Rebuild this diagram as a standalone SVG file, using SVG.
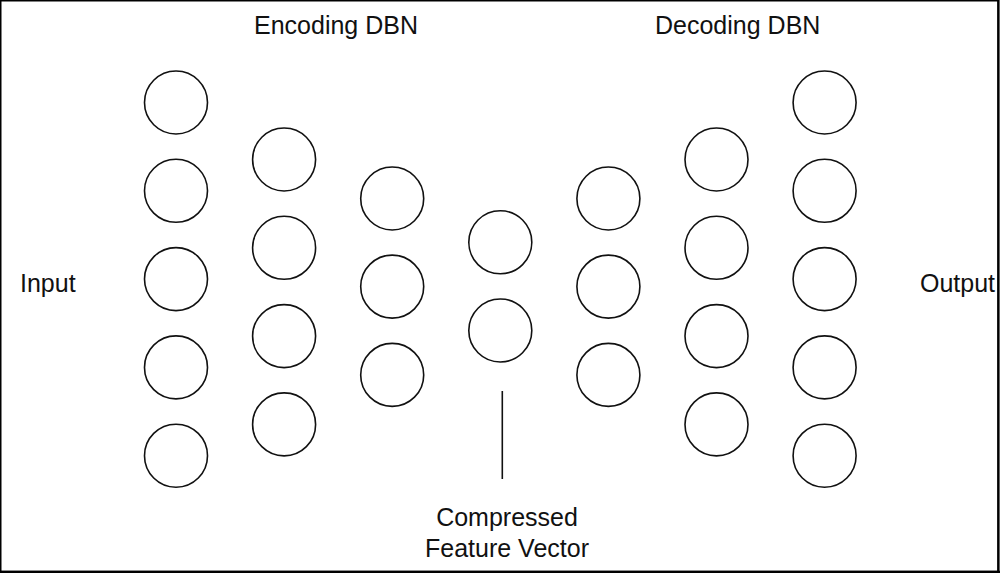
<svg xmlns="http://www.w3.org/2000/svg" width="1000" height="573" viewBox="0 0 1000 573">
<style>
.n{fill:#fff;stroke:#111;stroke-width:1.6}
.t{font-family:"Liberation Sans",Arial,sans-serif;font-size:25px;fill:#111}
.c{stroke:#111;stroke-width:1.6;fill:none}
</style>
<rect x="0" y="0" width="1000" height="573" fill="#fff"/>
<path d="M0.75,0.75 H998 V571.5 H0.75 Z" fill="none" stroke="#000" stroke-width="1.5"/>
<path d="M998.5,0 V573 M0,571.8 H1000" stroke="#000" stroke-width="2.2"/>
<g id="labels">
<text class="t" x="254" y="34">Encoding DBN</text>
<text class="t" x="655" y="34">Decoding DBN</text>
<text class="t" x="20" y="292">Input</text>
<text class="t" x="920" y="292">Output</text>
<text class="t" x="507" y="526" text-anchor="middle">Compressed</text>
<text class="t" x="507" y="557" text-anchor="middle">Feature Vector</text>
</g>
<g id="connectors">
<line class="c" x1="502.3" y1="391" x2="502.3" y2="479"/>
</g>
<g id="layer1">
<circle id="n1-1" class="n" cx="176" cy="102.5" r="31.5"/>
<circle id="n1-2" class="n" cx="176" cy="190.8" r="31.5"/>
<circle id="n1-3" class="n" cx="176" cy="279.1" r="31.5"/>
<circle id="n1-4" class="n" cx="176" cy="367.4" r="31.5"/>
<circle id="n1-5" class="n" cx="176" cy="455.7" r="31.5"/>
</g>
<g id="layer2">
<circle id="n2-1" class="n" cx="284.1" cy="159.5" r="31.5"/>
<circle id="n2-2" class="n" cx="284.1" cy="247.8" r="31.5"/>
<circle id="n2-3" class="n" cx="284.1" cy="336.1" r="31.5"/>
<circle id="n2-4" class="n" cx="284.1" cy="424.4" r="31.5"/>
</g>
<g id="layer3">
<circle id="n3-1" class="n" cx="392.2" cy="198.5" r="31.5"/>
<circle id="n3-2" class="n" cx="392.2" cy="286.6" r="31.5"/>
<circle id="n3-3" class="n" cx="392.2" cy="374.9" r="31.5"/>
</g>
<g id="layer4">
<circle id="n4-1" class="n" cx="500.3" cy="242.3" r="31.5"/>
<circle id="n4-2" class="n" cx="500.3" cy="330.5" r="31.5"/>
</g>
<g id="layer5">
<circle id="n5-1" class="n" cx="608.4" cy="198.5" r="31.5"/>
<circle id="n5-2" class="n" cx="608.4" cy="286.6" r="31.5"/>
<circle id="n5-3" class="n" cx="608.4" cy="374.9" r="31.5"/>
</g>
<g id="layer6">
<circle id="n6-1" class="n" cx="716.5" cy="159.5" r="31.5"/>
<circle id="n6-2" class="n" cx="716.5" cy="247.8" r="31.5"/>
<circle id="n6-3" class="n" cx="716.5" cy="336.1" r="31.5"/>
<circle id="n6-4" class="n" cx="716.5" cy="424.4" r="31.5"/>
</g>
<g id="layer7">
<circle id="n7-1" class="n" cx="824.6" cy="102.5" r="31.5"/>
<circle id="n7-2" class="n" cx="824.6" cy="190.8" r="31.5"/>
<circle id="n7-3" class="n" cx="824.6" cy="279.1" r="31.5"/>
<circle id="n7-4" class="n" cx="824.6" cy="367.4" r="31.5"/>
<circle id="n7-5" class="n" cx="824.6" cy="455.7" r="31.5"/>
</g>
</svg>
